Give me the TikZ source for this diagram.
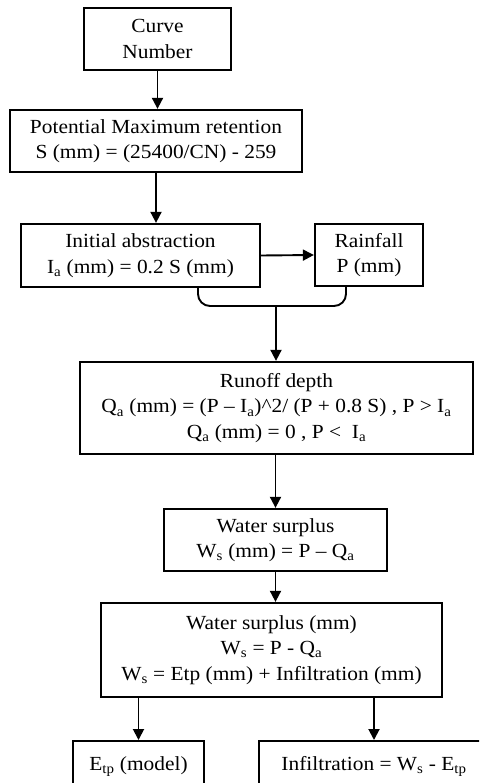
\documentclass[tikz,border=0pt]{standalone}
\usepackage{fontspec}
\setmainfont[FakeStretch=1.07]{Liberation Serif}
\usetikzlibrary{arrows.meta,calc}
\newcommand{\sbs}[1]{\textsubscript{#1}}
\begin{document}
\begin{tikzpicture}[x=1pt,y=-1pt,
  box/.style={draw,line width=2.3pt,rectangle,inner sep=0pt,align=center,
    font=\fontsize{20pt}{25.5pt}\selectfont},
  arr/.style={line width=1.9pt,-{Triangle[length=11pt,width=11pt]}},
  con/.style={line width=1.9pt}]
\clip (0,0) rectangle (479,783);
\useasboundingbox (0,0) rectangle (479,783);
\node[box,minimum width=147pt,minimum height=62pt] (cn) at (157.5,39) {Curve\\Number};
\node[box,minimum width=292pt,minimum height=62pt] (pm) at (156,141) {Potential Maximum retention\\S (mm) = (25400/CN) - 259};
\node[box,minimum width=239pt,minimum height=63pt] (ia) at (140.5,255.5) {Initial abstraction\\I\sbs{a} (mm) = 0.2 S (mm)};
\node[box,minimum width=108pt,minimum height=62pt] (rf) at (369,255) {Rainfall\\P (mm)};
\node[box,minimum width=393pt,minimum height=92pt] (ro) at (276.5,408) {Runoff depth\\ Q\sbs{a} (mm) = (P – I\sbs{a})\textasciicircum2/ (P + 0.8 S) , P > I\sbs{a}\\Q\sbs{a} (mm) = 0 , P <\ \ I\sbs{a}};
\node[box,minimum width=223pt,minimum height=62pt] (ws) at (275.5,540) {Water surplus\\W\sbs{s} (mm) = P – Q\sbs{a}};
\node[box,minimum width=341pt,minimum height=94pt] (wm) at (271.5,650) {Water surplus (mm)\\W\sbs{s} = P - Q\sbs{a}\\W\sbs{s} = Etp (mm) + Infiltration (mm)};
\node[box,minimum width=131pt,minimum height=50pt,text height=14pt,anchor=north] (et) at (138.5,740) {E\sbs{tp} (model)};
\node[box,minimum width=230pt,minimum height=50pt,text height=14pt,anchor=north] (inf) at (374,740) {Infiltration = W\sbs{s} - E\sbs{tp}};
\draw[arr] (cn.south) -- (cn.south |- pm.north);
\draw[arr] (pm.south) -- (pm.south |- ia.north);
\draw[arr] (ia.east) -- (rf.west);
\coordinate (jl) at ($(ia.south)+(57.5,0)$);
\coordinate (jr) at ($(rf.south)+(-23,0)$);
\coordinate (jm) at (276,306);
\draw[con,rounded corners=12pt] (jl) |- (jm) -| (jr);
\draw[arr] (jm) -- (jm |- ro.north);
\draw[arr] (ws.north |- ro.south) -- (ws.north);
\draw[arr] (ws.south) -- (ws.south |- wm.north);
\draw[arr] (et.north |- wm.south) -- (et.north);
\draw[arr] (inf.north |- wm.south) -- (inf.north);
\end{tikzpicture}
\end{document}
